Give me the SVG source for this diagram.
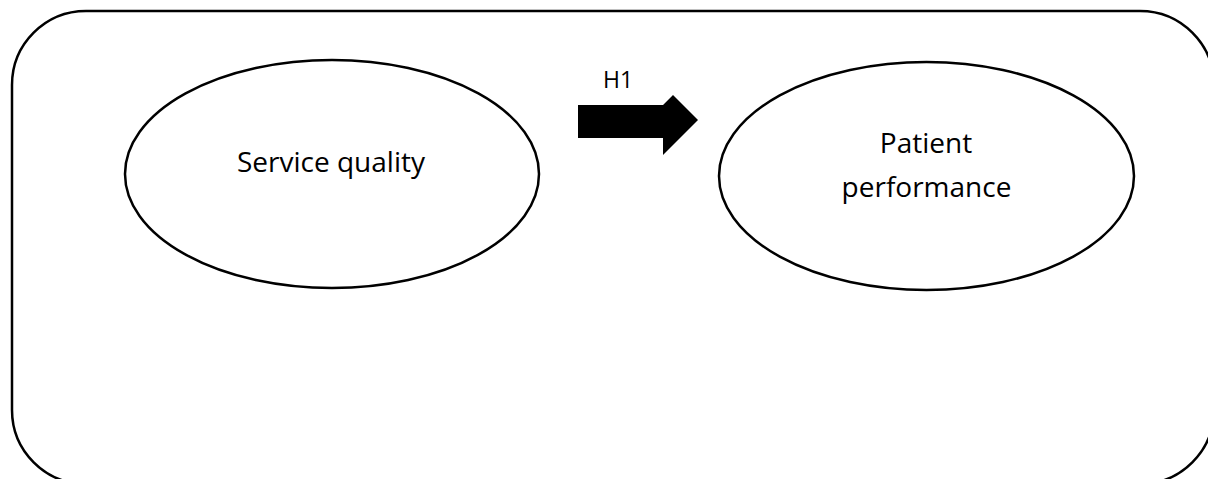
<svg xmlns="http://www.w3.org/2000/svg" width="1208" height="479" viewBox="0 0 1208 479">
<style>
.shape{fill:#fff;stroke:#000;stroke-width:2.5}
.lbl{font-family:"Open Sans","Liberation Sans",sans-serif;font-size:28px;fill:#000;text-anchor:middle}
.small{font-family:"Open Sans","Liberation Sans",sans-serif;font-size:23px;fill:#000;text-anchor:middle}
</style>
<rect id="frame" class="shape" x="12" y="11" width="1202" height="473" rx="74" ry="74"/>
<g id="node-service-quality">
<ellipse class="shape" cx="332" cy="174" rx="207" ry="114"/>
<text class="lbl" x="331" y="172">Service quality</text>
</g>
<g id="node-patient-performance">
<ellipse class="shape" cx="926.5" cy="176" rx="207.5" ry="114"/>
<text class="lbl" x="926" y="153">Patient</text>
<text class="lbl" x="926.5" y="197">performance</text>
</g>
<g id="connectors">
<path d="M578,105 H663 L673,95 L698,120 L663,155 V138 H578 Z" fill="#000"/>
<text class="small" x="618" y="88">H1</text>
</g>
</svg>
